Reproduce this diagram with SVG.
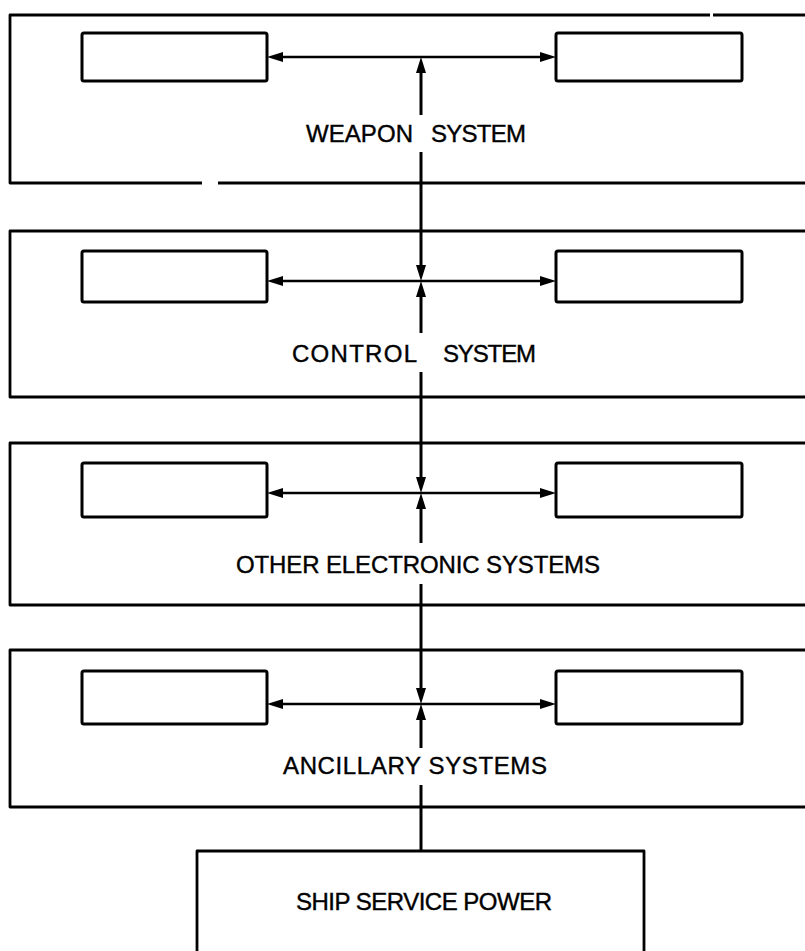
<svg xmlns="http://www.w3.org/2000/svg" width="805" height="951" viewBox="0 0 805 951">
<style>
.frame{fill:none;stroke:#000;stroke-width:2.8;stroke-linejoin:round}
.unit{fill:#fff;stroke:#000;stroke-width:3}
.bus{fill:none;stroke:#000;stroke-width:3}
.link{fill:none;stroke:#000;stroke-width:2.6}
.lbl{font-family:"Liberation Sans","DejaVu Sans",sans-serif;font-size:24px;fill:#000;stroke:#000;stroke-width:0.4}
</style>
<defs>
<marker id="ah" viewBox="0 0 16 10" markerWidth="16" markerHeight="10" refX="9" refY="5" markerUnits="userSpaceOnUse" orient="auto">
<path d="M0,0 L16,5 L0,10 Z" fill="#000"/>
</marker>
</defs>
<rect width="805" height="951" fill="#fff"/>

<g id="weapon-system">
<path class="frame" d="M710,15 H10 V183 H202 M218,183 H810 M713,15 H810"/>
<rect class="unit" x="82" y="33" width="185" height="48" rx="2"/>
<rect class="unit" x="556" y="33" width="186" height="48" rx="2"/>
<text class="lbl" x="306" y="142" textLength="107" lengthAdjust="spacing">WEAPON</text>
<text class="lbl" x="431" y="142" textLength="95" lengthAdjust="spacing">SYSTEM</text>
</g>

<g id="control-system">
<path class="frame" d="M810,231 H10 V397 H810"/>
<rect class="unit" x="82" y="251" width="185" height="51" rx="2"/>
<rect class="unit" x="556" y="251" width="186" height="51" rx="2"/>
<text class="lbl" x="292" y="362" textLength="125" lengthAdjust="spacing">CONTROL</text>
<text class="lbl" x="443" y="362" textLength="93" lengthAdjust="spacing">SYSTEM</text>
</g>

<g id="other-electronic-systems">
<path class="frame" d="M810,443 H10 V605 H810"/>
<rect class="unit" x="82" y="463" width="185" height="54" rx="2"/>
<rect class="unit" x="556" y="463" width="186" height="54" rx="2"/>
<text class="lbl" x="236" y="573" textLength="364" lengthAdjust="spacing">OTHER ELECTRONIC SYSTEMS</text>
</g>

<g id="ancillary-systems">
<path class="frame" d="M810,650 H10 V807 H810"/>
<rect class="unit" x="82" y="671" width="185" height="53" rx="2"/>
<rect class="unit" x="556" y="671" width="186" height="53" rx="2"/>
<text class="lbl" x="283" y="774" textLength="264" lengthAdjust="spacing">ANCILLARY SYSTEMS</text>
</g>

<g id="ship-service-power">
<path class="frame" d="M197,955 V851 H644 V955"/>
<text class="lbl" x="296" y="910" textLength="256" lengthAdjust="spacing">SHIP SERVICE POWER</text>
</g>

<g id="connectors">
<!-- row 1 -->
<line class="bus" x1="421" y1="115" x2="421" y2="64" marker-end="url(#ah)"/>
<line class="link" x1="421" y1="57" x2="274" y2="57" marker-end="url(#ah)"/>
<line class="link" x1="421" y1="57" x2="549" y2="57" marker-end="url(#ah)"/>
<line class="bus" x1="421" y1="152" x2="421" y2="274" marker-end="url(#ah)"/>
<!-- row 2 -->
<line class="bus" x1="421" y1="333" x2="421" y2="288" marker-end="url(#ah)"/>
<line class="link" x1="421" y1="281" x2="274" y2="281" marker-end="url(#ah)"/>
<line class="link" x1="421" y1="281" x2="549" y2="281" marker-end="url(#ah)"/>
<line class="bus" x1="421" y1="372" x2="421" y2="486" marker-end="url(#ah)"/>
<!-- row 3 -->
<line class="bus" x1="421" y1="543" x2="421" y2="500" marker-end="url(#ah)"/>
<line class="link" x1="421" y1="493" x2="274" y2="493" marker-end="url(#ah)"/>
<line class="link" x1="421" y1="493" x2="549" y2="493" marker-end="url(#ah)"/>
<line class="bus" x1="421" y1="584" x2="421" y2="697" marker-end="url(#ah)"/>
<!-- row 4 -->
<line class="bus" x1="421" y1="748" x2="421" y2="711" marker-end="url(#ah)"/>
<line class="link" x1="421" y1="704" x2="274" y2="704" marker-end="url(#ah)"/>
<line class="link" x1="421" y1="704" x2="549" y2="704" marker-end="url(#ah)"/>
<line class="bus" x1="421" y1="785" x2="421" y2="851"/>
</g>
</svg>
